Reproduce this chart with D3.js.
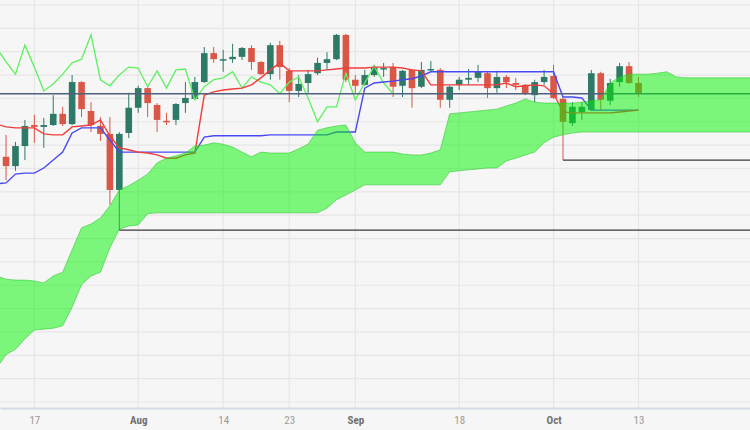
<!DOCTYPE html>
<html><head><meta charset="utf-8">
<script src="https://cdn.jsdelivr.net/npm/d3@7/dist/d3.min.js"></script>
<style>html,body{margin:0;padding:0;background:#f6f6f6;overflow:hidden}</style>
</head><body><svg id="c" width="750" height="430"></svg>
<script>
// ---- categories ----
const tickDates  = ["2023-07-17","2023-08-01","2023-08-14","2023-08-23","2023-09-01","2023-09-18","2023-10-02","2023-10-13"];
const tickLabels = ["17","Aug","14","23","Sep","18","Oct","13"];
const monthLabels = ["Aug","Sep","Oct"];
const firstBarDate = "2023-07-12";   // index 0 (lines/cloud start one bar earlier: index -1)

// ---- candles (index 0..67) ----
const opens = [145.25,145.05,145.48,145.93,145.89,145.93,146.17,145.95,146.85,146.23,
 145.91,145.74,144.54,145.76,146.30,146.72,146.36,146.02,146.04,146.40,
 146.49,146.85,147.47,147.32,147.34,147.39,147.58,147.28,147.02,147.64,
 147.09,146.66,146.83,147.04,147.26,147.34,147.86,146.90,146.79,147.00,
 147.13,147.17,146.77,147.11,146.75,147.11,147.11,146.47,146.79,146.90,
 146.94,147.04,146.72,146.96,146.83,146.79,146.57,146.85,146.98,146.49,
 145.97,146.21,146.25,147.04,146.45,146.85,147.19,146.83];
const highs = [145.72,145.57,146.04,146.15,146.08,146.57,146.32,147.00,146.87,146.42,
 146.10,146.10,145.78,146.62,146.77,146.77,146.40,146.19,146.40,146.85,
 146.96,147.60,147.60,147.54,147.67,147.60,147.64,147.30,147.69,147.73,
 147.15,147.00,147.11,147.37,147.49,147.88,147.88,147.00,147.11,147.22,
 147.26,147.26,147.11,147.13,147.28,147.30,147.15,146.77,146.96,147.13,
 147.22,147.09,147.09,147.00,146.94,146.81,146.90,147.11,147.22,146.53,
 146.42,146.42,147.11,147.07,146.92,147.26,147.28,146.96];
const lows = [144.75,144.95,145.18,145.55,145.44,145.91,145.91,145.93,146.10,145.78,
 145.59,144.22,143.68,145.65,146.19,146.10,145.78,145.93,145.93,146.19,
 146.47,146.83,147.26,147.07,147.26,147.32,147.11,147.00,146.90,146.90,
 146.42,146.53,146.62,147.00,147.11,147.32,146.85,146.62,146.77,146.96,
 146.96,146.53,146.53,146.30,146.72,147.07,146.30,146.30,146.68,146.79,
 146.85,146.51,146.62,146.72,146.68,146.57,146.42,146.79,146.49,145.18,
 145.91,146.04,146.23,146.25,146.36,146.75,146.81,146.53];
const closes = [145.05,145.48,145.91,145.89,145.93,146.17,145.95,146.85,146.27,145.93,
 145.74,144.54,145.74,146.30,146.72,146.40,146.04,146.00,146.38,146.51,
 146.85,147.47,147.34,147.34,147.39,147.58,147.28,147.02,147.64,147.17,
 146.66,146.81,147.02,147.26,147.34,147.86,146.90,146.77,147.00,147.17,
 147.15,146.75,147.09,146.72,147.11,147.13,146.47,146.75,146.90,146.94,
 147.07,146.72,146.96,146.85,146.79,146.60,146.85,146.96,146.51,146.00,
 146.32,146.32,147.04,146.47,146.83,147.19,146.83,146.60];

// ---- Ichimoku lines (index -1..67) ----
const tenkan = [145.95,145.89,145.87,145.87,145.87,145.74,145.72,145.72,145.89,145.91,
 145.93,146.04,145.70,145.44,145.40,145.35,145.33,145.29,145.22,145.22,
 145.29,145.33,146.57,146.64,146.68,146.70,146.72,146.79,146.94,147.11,
 147.26,147.09,147.09,147.09,147.09,147.11,147.13,147.15,147.15,147.15,
 147.17,147.17,147.17,147.15,147.11,147.09,146.79,146.79,146.79,146.79,
 146.79,146.79,146.79,146.79,146.83,146.75,146.77,146.79,146.77,146.60,
 146.21,146.19,146.19,146.19,146.19,146.19,146.21,146.23,146.25];
const kijun = [144.67,144.69,144.88,144.90,144.90,145.01,145.18,145.35,145.76,145.87,
 145.87,145.87,145.61,145.35,145.35,145.35,145.35,145.35,145.35,145.35,
 145.35,145.35,145.67,145.70,145.70,145.70,145.70,145.70,145.70,145.72,
 145.72,145.72,145.72,145.72,145.72,145.72,145.78,145.78,145.78,146.72,
 146.83,146.85,146.87,146.90,146.92,146.98,147.07,147.07,147.07,147.07,
 147.07,147.07,147.07,147.07,147.07,147.07,147.07,147.07,147.07,147.07,
 146.53,146.53,146.51,146.25,146.25,146.25,146.25,146.25,146.25];
// chikou span: index -1..41
const chikou = [147.58,147.28,147.02,147.64,147.17,146.66,146.81,147.02,147.26,147.34,
 147.86,146.90,146.77,147.00,147.17,147.15,146.75,147.09,146.72,147.11,
 147.13,146.47,146.75,146.90,146.94,147.07,146.72,146.96,146.85,146.79,
 146.60,146.85,146.96,146.51,146.00,146.32,146.32,147.04,146.47,146.83,
 147.19,146.83,146.60];
// cloud: index -1..79
const senkouA = [142.70,142.63,142.61,142.61,142.59,142.55,142.70,142.78,143.26,143.73,
 143.81,143.94,144.20,144.54,144.63,144.75,144.88,145.12,145.22,145.27,
 145.33,145.48,145.50,145.55,145.52,145.46,145.35,145.25,145.35,145.33,
 145.33,145.33,145.42,145.52,145.82,145.87,145.91,145.93,145.55,145.35,
 145.35,145.35,145.35,145.31,145.29,145.29,145.33,145.40,146.17,146.19,
 146.21,146.23,146.25,146.27,146.34,146.40,146.49,146.42,146.40,146.40,
 146.40,146.40,146.42,146.45,146.47,146.83,146.96,147.02,147.02,147.02,
 147.04,147.07,146.96,146.94,146.94,146.94,146.94,146.94,146.94,146.94,
 146.94];
const senkouB = [140.73,141.01,141.13,141.35,141.54,141.56,141.58,141.63,142.03,142.51,
 142.70,142.78,143.30,143.70,143.77,143.79,144.03,144.05,144.05,144.05,
 144.05,144.05,144.05,144.05,144.05,144.05,144.05,144.05,144.05,144.05,
 144.05,144.05,144.05,144.05,144.05,144.15,144.33,144.43,144.54,144.65,
 144.65,144.65,144.65,144.65,144.65,144.65,144.65,144.65,144.93,144.95,
 144.97,144.99,145.01,145.01,145.16,145.22,145.29,145.35,145.55,145.67,
 145.72,145.76,145.78,145.78,145.78,145.78,145.78,145.78,145.78,145.78,
 145.78,145.78,145.78,145.78,145.78,145.78,145.78,145.78,145.78,145.78,
 145.78];
// current price & support levels (start bar index, price)
const lastPrice = 146.60;
const levelStart = [12, 59];
const levelPrice = [143.68, 145.18];

// ---- drawing ----
const W = 750, H = 430;
const svg = d3.select('#c');
const x = d3.scaleLinear().domain([-0.64, 78.81]).range([0, W]);
const y = d3.scaleLinear().domain([140, 148.5]).range([402, 5]);

const fmt = d3.timeFormat("%Y-%m-%d");
const calendar = d3.timeDay.range(new Date(2023,6,12), new Date(2023,11,1)).filter(d => d.getDay() % 6 !== 0);
const idxOf = s => calendar.findIndex(d => fmt(d) === s);
const tickIdx = tickDates.map(idxOf);

svg.append('rect').attr('width', W).attr('height', H).attr('fill', '#f6f6f6');

// grid
const g = svg.append('g');
g.selectAll('line.h').data(d3.range(140, 148.51, 0.5)).join('line')
  .attr('x1', 0).attr('x2', W).attr('y1', d => y(d)).attr('y2', d => y(d))
  .attr('stroke', '#e6e6e6').attr('stroke-width', 1.2);
g.selectAll('line.v').data(tickIdx).join('line')
  .attr('x1', d => x(d)).attr('x2', d => x(d)).attr('y1', 0).attr('y2', 408)
  .attr('stroke', '#e6e6e6').attr('stroke-width', 1.2);

// candles
const bars = closes.map((c, i) => ({i, o: opens[i], h: highs[i], l: lows[i], c}));
const upC = '#2e7a68', dnC = '#d95747';
const bw = 6.6;
const cg = svg.append('g');
cg.selectAll('line').data(bars).join('line')
  .attr('x1', d => x(d.i)).attr('x2', d => x(d.i))
  .attr('y1', d => y(d.h)).attr('y2', d => y(d.l))
  .attr('stroke', d => d.c >= d.o ? upC : dnC).attr('stroke-width', 1);
cg.selectAll('rect').data(bars).join('rect')
  .attr('x', d => x(d.i) - bw/2).attr('width', bw)
  .attr('y', d => y(Math.max(d.o, d.c)))
  .attr('height', d => Math.max(1.5, Math.abs(y(d.o) - y(d.c))))
  .attr('fill', d => d.c >= d.o ? upC : dnC);

// support levels
svg.selectAll('line.lvl').data(levelStart).join('line')
  .attr('x1', d => x(d)).attr('x2', W)
  .attr('y1', (d, i) => y(levelPrice[i])).attr('y2', (d, i) => y(levelPrice[i]))
  .attr('stroke', '#3a3a3a').attr('stroke-width', 1.3);

const line = arr => d3.line().x((d, i) => x(i - 1)).y(d => y(d))(arr);
svg.append('path').attr('d', line(chikou)).attr('fill', 'none').attr('stroke', '#5ff05f').attr('stroke-width', 1.3);
svg.append('path').attr('d', line(kijun)).attr('fill', 'none').attr('stroke', '#4848f2').attr('stroke-width', 1.4);
svg.append('path').attr('d', line(tenkan)).attr('fill', 'none').attr('stroke', '#f23c3c').attr('stroke-width', 1.4);

// current price line
svg.append('line').attr('x1', 0).attr('x2', W).attr('y1', y(lastPrice)).attr('y2', y(lastPrice))
  .attr('stroke', '#50607f').attr('stroke-width', 1.5);

// cloud
const area = d3.area().x((d, i) => x(i - 1)).y0((d, i) => y(senkouB[i])).y1(d => y(d));
svg.append('path').attr('d', line(senkouA)).attr('fill', 'none').attr('stroke', '#3cb43c').attr('stroke-opacity', 0.55).attr('stroke-width', 1);
svg.append('path').attr('d', line(senkouB)).attr('fill', 'none').attr('stroke', '#3cb43c').attr('stroke-opacity', 0.55).attr('stroke-width', 1);
svg.append('path').attr('d', area(senkouA)).attr('fill', 'rgb(0,245,0)').attr('fill-opacity', 0.5);

// x axis
const ax = svg.append('g').attr('transform', 'translate(0,408)')
  .call(d3.axisBottom(x).tickValues(tickIdx).tickFormat((d, i) => tickLabels[i]).tickSize(0).tickPadding(8));
ax.select('.domain').attr('stroke', '#d4dae4').attr('stroke-width', 2);
ax.selectAll('text')
  .attr('font-family', '"Liberation Sans Narrow","Roboto Condensed","DejaVu Sans Condensed",Roboto,sans-serif')
  .attr('font-size', 11)
  .attr('font-weight', (d, i) => monthLabels.includes(tickLabels[i]) ? 'bold' : 'normal')
  .attr('fill', (d, i) => monthLabels.includes(tickLabels[i]) ? '#707070' : '#9a9a9a');
</script></body></html>
